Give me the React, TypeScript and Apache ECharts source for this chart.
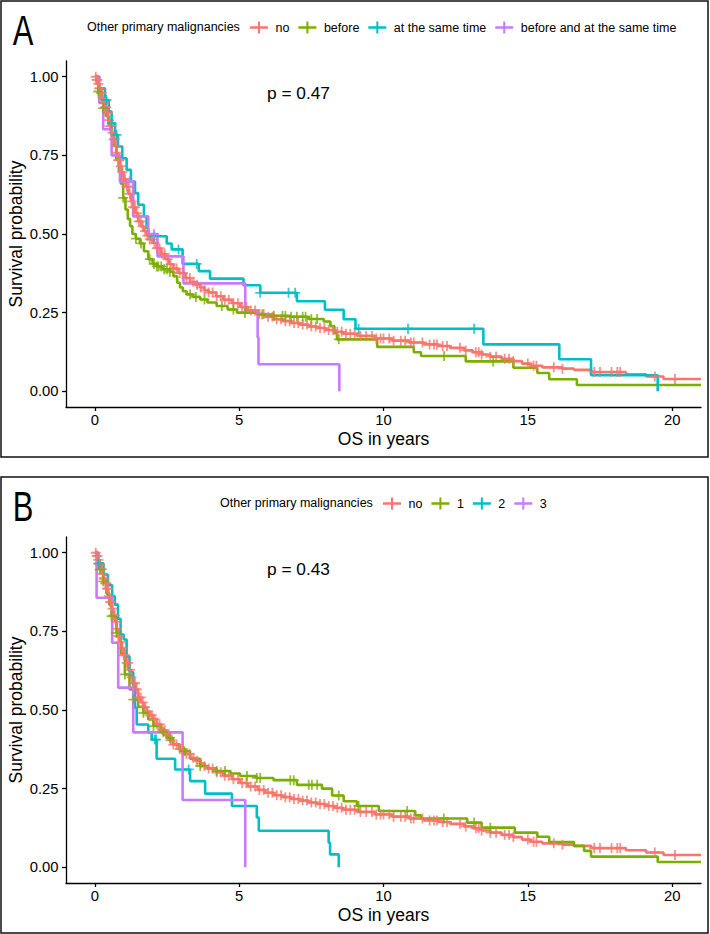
import React, { useEffect, useRef } from "react";
import * as echarts from "echarts";

type Step = [number, number];

// Axis ticks
const timeTicks = [0, 5, 10, 15, 20];
const survivalTicks = [0, 0.25, 0.5, 0.75, 1];

// Labels
const legendTitle = "Other primary malignancies";
const groupsA = ["no", "before", "at the same time", "before and at the same time"];
const groupsB = ["no", "1", "2", "3"];
const pValueA = "p = 0.47";
const pValueB = "p = 0.43";
const xTitle = "OS in years";
const yTitle = "Survival probability";

const palette = ["#F8766D", "#7CAE00", "#00BFC4", "#C77CFF"];

// Kaplan-Meier steps [time in years, survival after events at that time]
const noCurve: Step[] = [
  [0, 1], [0.05, 0.99], [0.1, 0.977], [0.15, 0.963], [0.2, 0.948], [0.25, 0.933], [0.3, 0.918],
  [0.35, 0.903], [0.4, 0.886], [0.46, 0.862], [0.52, 0.843], [0.58, 0.822], [0.64, 0.801],
  [0.7, 0.78], [0.75, 0.758], [0.81, 0.735], [0.87, 0.716], [0.93, 0.697], [1.0, 0.674],
  [1.08, 0.65], [1.16, 0.628], [1.25, 0.604], [1.33, 0.585], [1.41, 0.566], [1.5, 0.54],
  [1.6, 0.524], [1.7, 0.509], [1.8, 0.495], [1.9, 0.483], [2.0, 0.472], [2.14, 0.455],
  [2.28, 0.437], [2.43, 0.42], [2.57, 0.404], [2.72, 0.39], [2.9, 0.376], [3.13, 0.36],
  [3.3, 0.348], [3.47, 0.339], [3.65, 0.33], [3.8, 0.321], [3.94, 0.314], [4.2, 0.302],
  [4.45, 0.291], [4.75, 0.28], [5.03, 0.268], [5.3, 0.257], [5.64, 0.246], [5.9, 0.237],
  [6.2, 0.229], [6.5, 0.223], [6.8, 0.217], [7.1, 0.212], [7.4, 0.206], [7.7, 0.201],
  [8.0, 0.195], [8.3, 0.189], [8.6, 0.183], [9.1, 0.176], [9.7, 0.168], [10.3, 0.161],
  [10.9, 0.155], [11.4, 0.149], [11.9, 0.144], [12.3, 0.138], [12.8, 0.13], [13.1, 0.124],
  [13.4, 0.117], [13.7, 0.11], [14.1, 0.103], [14.5, 0.096], [14.8, 0.088], [15.1, 0.081],
  [15.5, 0.076], [16.2, 0.072], [16.6, 0.068], [17.2, 0.061], [18.4, 0.054], [19.1, 0.047],
  [19.7, 0.039], [21.0, 0.039],
];

const beforeCurve: Step[] = [
  [0, 1], [0.06, 0.98], [0.12, 0.953], [0.2, 0.928], [0.29, 0.9], [0.38, 0.875], [0.47, 0.85],
  [0.56, 0.815], [0.65, 0.78], [0.74, 0.74], [0.83, 0.7], [0.9, 0.66], [0.98, 0.615],
  [1.06, 0.578], [1.14, 0.548], [1.22, 0.525], [1.3, 0.5], [1.42, 0.485], [1.56, 0.47],
  [1.7, 0.445], [1.85, 0.42], [2.0, 0.405], [2.14, 0.397], [2.35, 0.388], [2.6, 0.38],
  [2.72, 0.366], [2.85, 0.345], [2.95, 0.33], [3.05, 0.318], [3.18, 0.308], [3.4, 0.3],
  [3.65, 0.292], [3.9, 0.282], [4.22, 0.271], [4.6, 0.26], [4.92, 0.25], [5.6, 0.244],
  [6.2, 0.24], [6.77, 0.237], [7.4, 0.23], [7.93, 0.222], [8.16, 0.207], [8.3, 0.185],
  [8.39, 0.165], [9.78, 0.141], [11.05, 0.124], [11.3, 0.112], [12.85, 0.095], [14.5, 0.075],
  [15.33, 0.058], [15.74, 0.038], [16.7, 0.02], [21.0, 0.02],
];

const sameTimeCurve: Step[] = [
  [0, 1], [0.15, 0.963], [0.35, 0.926], [0.48, 0.889], [0.58, 0.852], [0.7, 0.815],
  [0.8, 0.778], [0.95, 0.741], [1.1, 0.704], [1.25, 0.667], [1.39, 0.63], [1.5, 0.593],
  [1.7, 0.556], [1.79, 0.519], [1.85, 0.493], [2.49, 0.47], [2.66, 0.451], [3.04, 0.405],
  [3.6, 0.382], [3.99, 0.358], [5.15, 0.337], [5.73, 0.313], [7.0, 0.286], [7.97, 0.259],
  [8.62, 0.229], [9.03, 0.199], [13.46, 0.149], [16.09, 0.102], [17.19, 0.051], [19.5, 0],
];

const bothCurve: Step[] = [
  [0, 1], [0.15, 0.917], [0.29, 0.833], [0.58, 0.75], [0.87, 0.667], [1.33, 0.556],
  [1.85, 0.5], [2.17, 0.429], [3.07, 0.343], [5.21, 0.257], [5.64, 0.171], [5.67, 0.086],
  [8.47, 0],
];

const oneCurve: Step[] = [
  [0, 1], [0.08, 0.975], [0.17, 0.946], [0.29, 0.909], [0.4, 0.87], [0.5, 0.835],
  [0.58, 0.798], [0.75, 0.745], [0.9, 0.68], [1.04, 0.613], [1.2, 0.565], [1.33, 0.533],
  [1.5, 0.51], [1.68, 0.491], [1.85, 0.47], [2.03, 0.449], [2.25, 0.43], [2.49, 0.412],
  [2.7, 0.39], [2.95, 0.369], [3.3, 0.345], [3.65, 0.322], [3.9, 0.313], [4.22, 0.306],
  [4.7, 0.298], [5.03, 0.29], [5.6, 0.284], [6.19, 0.277], [7.0, 0.262], [7.87, 0.25],
  [8.22, 0.228], [8.62, 0.21], [9.08, 0.195], [9.84, 0.179], [11.1, 0.165], [11.3, 0.155],
  [12.9, 0.142], [13.4, 0.126], [14.55, 0.11], [15.33, 0.097], [15.74, 0.08], [16.6, 0.068],
  [16.95, 0.052], [17.19, 0.034], [19.5, 0.017], [21.0, 0.017],
];

const twoCurve: Step[] = [
  [0, 1], [0.12, 0.966], [0.3, 0.931], [0.45, 0.897], [0.6, 0.862], [0.69, 0.835],
  [0.8, 0.79], [0.89, 0.74], [1.0, 0.724], [1.1, 0.67], [1.2, 0.62], [1.33, 0.576],
  [1.39, 0.507], [1.45, 0.454], [1.85, 0.428], [1.97, 0.406], [2.14, 0.345], [2.78, 0.311],
  [3.3, 0.274], [3.82, 0.234], [4.75, 0.195], [5.61, 0.158], [5.68, 0.116], [8.1, 0.078],
  [8.15, 0.041], [8.45, 0],
];

const threeCurve: Step[] = [
  [0, 1], [0.06, 0.857], [0.6, 0.714], [0.81, 0.571], [1.33, 0.429], [3.04, 0.214], [5.21, 0],
];

// Censoring times (years)
const noCensor = [
  0.03, 0.06, 0.09, 0.12, 0.15, 0.18, 0.21, 0.24, 0.27, 0.3, 0.33, 0.36, 0.39, 0.42, 0.45,
  0.49, 0.53, 0.57, 0.61, 0.65, 0.69, 0.73, 0.77, 0.81, 0.85, 0.9, 0.95, 1.0, 1.05, 1.1,
  1.15, 1.21, 1.27, 1.33, 1.39, 1.45, 1.52, 1.59, 1.66, 1.74, 1.82, 1.9, 1.98, 2.06, 2.15,
  2.24, 2.33, 2.42, 2.52, 2.62, 2.72, 2.83, 2.94, 3.05, 3.17, 3.29, 3.41, 3.54, 3.67, 3.8,
  3.94, 4.08, 4.22, 4.36, 4.5, 4.64, 4.8, 4.96, 5.1, 5.25, 5.4, 5.55, 5.7, 5.85, 6.0, 6.15,
  6.3, 6.45, 6.6, 6.75, 6.9, 7.05, 7.2, 7.35, 7.5, 7.65, 7.8, 7.95, 8.1, 8.25, 8.4, 8.55,
  8.7, 8.85, 9.0, 9.2, 9.4, 9.6, 9.75, 9.9, 10.0, 10.2, 10.35, 10.6, 10.75, 10.95, 11.05,
  11.35, 11.6, 11.75, 11.85, 12.05, 12.2, 12.65, 12.85, 13.2, 13.3, 13.4, 13.7, 13.9, 14.2,
  14.35, 14.5, 15.0, 15.2, 15.3, 15.9, 16.2, 17.3, 17.5, 17.9, 18.1, 18.2, 19.4, 20.1,
];
const beforeCensor = [
  0.12, 0.29, 0.98, 1.42, 1.6, 1.9, 2.05, 2.15, 2.2, 2.3, 2.4, 2.5, 2.6, 3.3, 3.5, 3.8, 4.4,
  4.8, 5.2, 5.8, 6.2, 6.5, 6.6, 6.8, 7.0, 7.2, 7.3, 7.5, 7.7, 8.45, 12.1, 13.8,
];
const sameTimeCensor = [0.4, 0.58, 0.75, 2.05, 2.9, 3.53, 5.73, 6.71, 6.94, 9.14, 10.85, 13.14];
const bothCensor = [1.2, 2.05];
const oneCensor = [
  0.17, 0.29, 0.58, 0.75, 1.04, 1.33, 1.68, 2.03, 2.37, 2.6, 3.1, 3.65, 4.22, 4.51, 5.27,
  5.61, 5.73, 6.77, 6.89, 7.41, 7.52, 7.7, 8.45, 9.14, 10.82, 12.09, 13.14, 13.7,
];
const twoCensor = [0.12, 2.08, 2.12, 3.25];
const threeCensor: number[] = [];

const FONT = "'Liberation Sans', Arial, Helvetica, sans-serif";
const CENSOR_SYMBOL =
  "path://M-0.9,-5H0.9V-0.9H5V0.9H0.9V5H-0.9V0.9H-5V-0.9H-0.9Z";
const LEGEND_ICON = "path://M0,4.7H8V0H10V4.7H18V7.3H10V12H8V7.3H0Z";

function survivalAt(curve: Step[], t: number): number {
  let s = curve[0][1];
  for (const [time, value] of curve) {
    if (time <= t) s = value;
    else break;
  }
  return s;
}

const panels = [
  {
    top: 61,
    boxTop: 1,
    letter: "A",
    legendLeft: 250,
    titleLeft: 87,
    legendY: 27,
    pValue: pValueA,
    groups: groupsA,
    curves: [noCurve, beforeCurve, sameTimeCurve, bothCurve],
    censors: [noCensor, beforeCensor, sameTimeCensor, bothCensor],
  },
  {
    top: 537,
    boxTop: 477,
    letter: "B",
    legendLeft: 383,
    titleLeft: 220,
    legendY: 503,
    pValue: pValueB,
    groups: groupsB,
    curves: [noCurve, oneCurve, twoCurve, threeCurve],
    censors: [noCensor, oneCensor, twoCensor, threeCensor],
  },
];

const GRID_LEFT = 66;
const GRID_WIDTH = 635;
const GRID_HEIGHT = 346;

function buildOption(): echarts.EChartsOption {
  const axisLineStyle = { color: "#000", width: 1.3 };
  const grid = panels.map((p) => ({
    left: GRID_LEFT,
    top: p.top,
    width: GRID_WIDTH,
    height: GRID_HEIGHT,
  }));
  const xAxis = panels.map((_, i) => ({
    type: "value" as const,
    gridIndex: i,
    min: -1,
    max: 21,
    axisLine: { show: true, onZero: false, lineStyle: axisLineStyle },
    axisTick: { show: true, length: 4, lineStyle: axisLineStyle, customValues: timeTicks },
    axisLabel: {
      customValues: timeTicks,
      color: "#000",
      fontSize: 14.8,
      fontFamily: FONT,
      margin: 5,
    },
    splitLine: { show: false },
  }));
  const yAxis = panels.map((_, i) => ({
    type: "value" as const,
    gridIndex: i,
    min: -0.05,
    max: 1.05,
    axisLine: { show: true, onZero: false, lineStyle: axisLineStyle },
    axisTick: { show: true, length: 4, lineStyle: axisLineStyle, customValues: survivalTicks },
    axisLabel: {
      customValues: survivalTicks,
      color: "#000",
      fontSize: 14.8,
      fontFamily: FONT,
      margin: 7.5,
      formatter: (v: number) => v.toFixed(2),
    },
    splitLine: { show: false },
  }));

  const series: any[] = [];
  panels.forEach((p, i) => {
    p.groups.forEach((name, g) => {
      series.push({
        type: "line",
        name,
        xAxisIndex: i,
        yAxisIndex: i,
        data: p.curves[g],
        step: "end",
        symbol: "none",
        showSymbol: false,
        color: palette[g],
        itemStyle: { color: palette[g] },
        lineStyle: { color: palette[g], width: 2.6 },
        z: 2,
        silent: true,
      });
    });
    p.groups.forEach((name, g) => {
      series.push({
        type: "scatter",
        name,
        xAxisIndex: i,
        yAxisIndex: i,
        data: p.censors[g].map((t) => [t, survivalAt(p.curves[g], t)]),
        symbol: CENSOR_SYMBOL,
        symbolSize: 10,
        color: palette[g],
        itemStyle: { color: palette[g] },
        z: 3,
        silent: true,
      });
    });
  });

  const legend = panels.map((p) => ({
    left: p.legendLeft,
    top: p.legendY - 6,
    orient: "horizontal" as const,
    padding: 0,
    itemWidth: 18,
    itemHeight: 12,
    itemGap: 9,
    selectedMode: false,
    data: p.groups.map((name) => ({ name, icon: LEGEND_ICON })),
    textStyle: { fontSize: 12.5, fontFamily: FONT, color: "#000", padding: [0, 0, 0, 2.5] },
  }));

  const graphic: any[] = [];
  panels.forEach((p) => {
    graphic.push({
      type: "rect",
      shape: { x: 1, y: p.boxTop, width: 707, height: 456 },
      style: { fill: "none", stroke: "#111", lineWidth: 1.5 },
      silent: true,
    });
    graphic.push({
      type: "text",
      x: 23,
      y: p.boxTop + 29,
      scaleX: 0.72,
      style: {
        text: p.letter,
        font: `43px ${FONT}`,
        fill: "#000",
        textAlign: "center",
        textVerticalAlign: "middle",
      },
    });
    graphic.push({
      type: "text",
      x: p.titleLeft,
      y: p.legendY,
      style: {
        text: legendTitle,
        font: `12.5px ${FONT}`,
        fill: "#000",
        textAlign: "left",
        textVerticalAlign: "middle",
      },
    });
    graphic.push({
      type: "text",
      x: 267,
      y: p.top + 32,
      style: {
        text: p.pValue,
        font: `17.3px ${FONT}`,
        fill: "#000",
        textAlign: "left",
        textVerticalAlign: "middle",
      },
    });
    graphic.push({
      type: "text",
      x: GRID_LEFT + GRID_WIDTH / 2,
      y: p.top + GRID_HEIGHT + 32,
      style: {
        text: xTitle,
        font: `17.5px ${FONT}`,
        fill: "#000",
        textAlign: "center",
        textVerticalAlign: "middle",
      },
    });
    graphic.push({
      type: "text",
      x: 15.5,
      y: p.top + GRID_HEIGHT / 2,
      rotation: Math.PI / 2,
      style: {
        text: yTitle,
        font: `17.5px ${FONT}`,
        fill: "#000",
        textAlign: "center",
        textVerticalAlign: "middle",
      },
    });
  });

  return {
    animation: false,
    backgroundColor: "#fff",
    grid,
    xAxis,
    yAxis,
    legend,
    series,
    graphic,
  };
}

export default function App() {
  const ref = useRef<HTMLDivElement>(null);
  useEffect(() => {
    document.body.style.margin = "0";
    if (!ref.current) return;
    const chart = echarts.init(ref.current, undefined, { renderer: "svg" });
    chart.setOption(buildOption());
    return () => chart.dispose();
  }, []);
  return <div ref={ref} style={{ width: 710, height: 934 }} />;
}
